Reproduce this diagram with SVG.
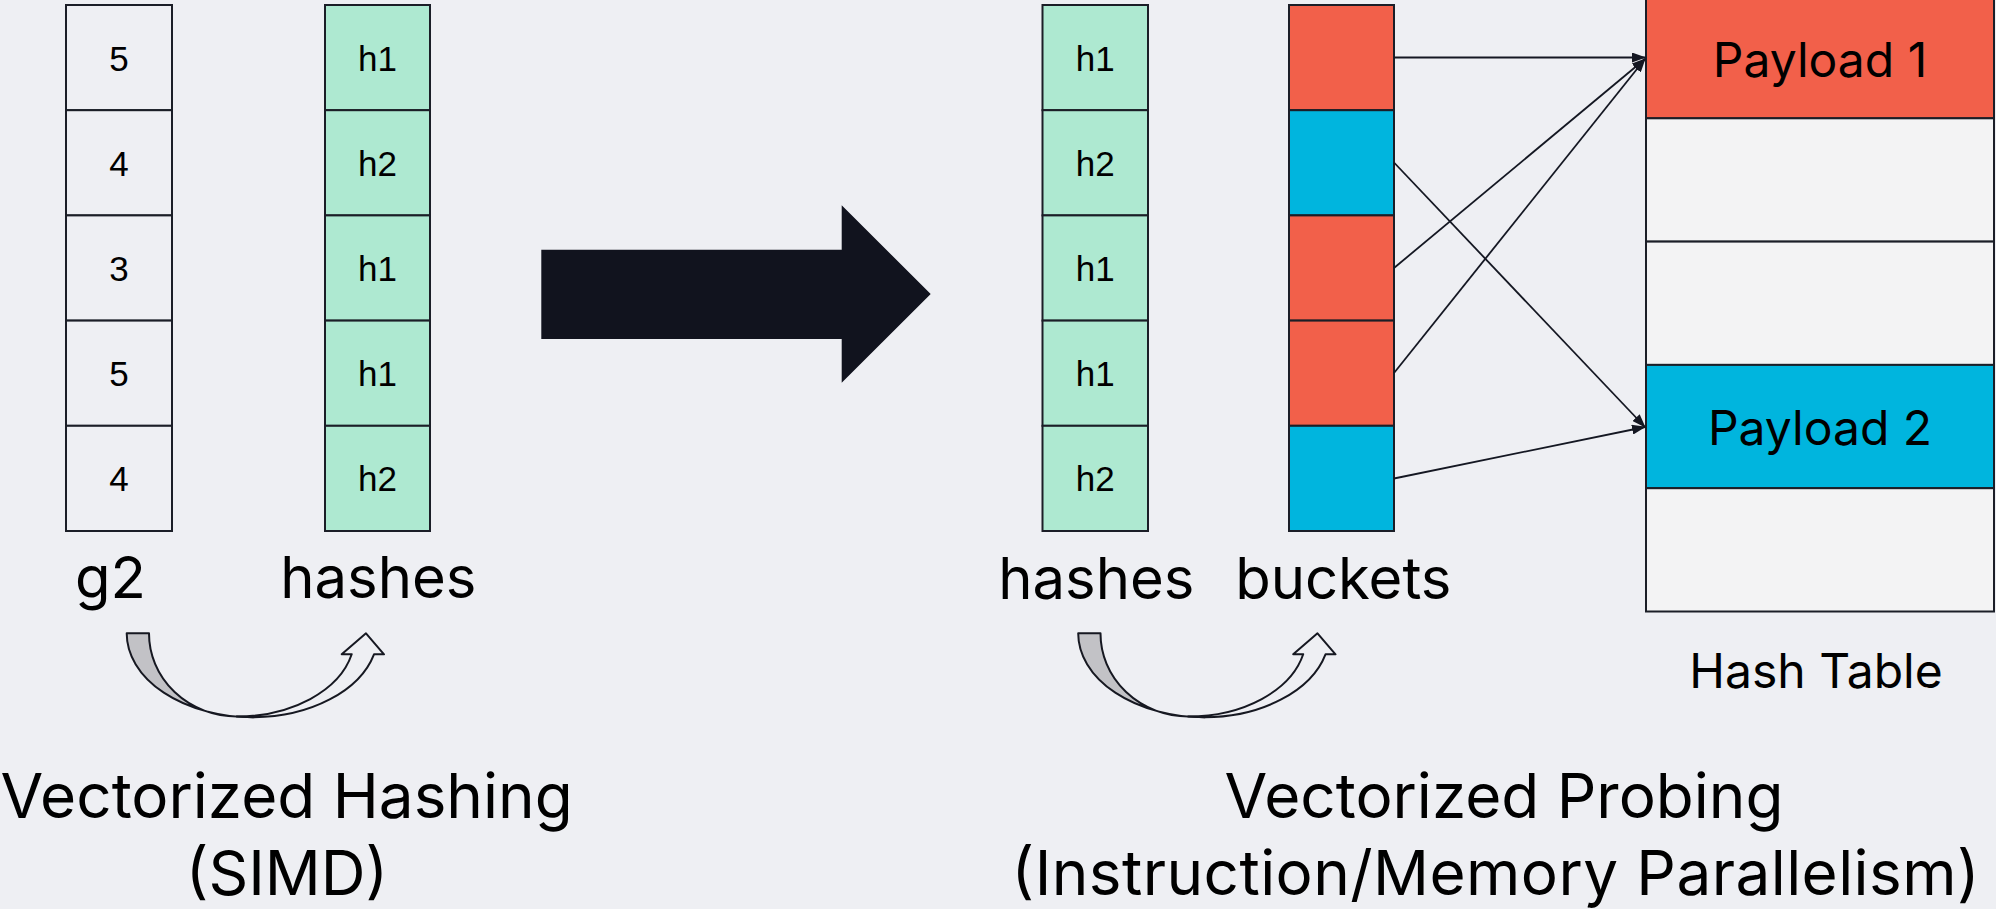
<svg xmlns="http://www.w3.org/2000/svg" width="1996" height="909" viewBox="0 0 1996 909">
  <defs>
    <style>
      .cell { stroke: #1b1e27; stroke-width: 2; }
      .plain { fill: #eeeff3; }
      .green { fill: #aee9d1; }
      .red { fill: #f2604a; }
      .blue { fill: #00b5de; }
      .slot { fill: #f3f3f4; }
      .val { font-family: "Liberation Sans", Arial, sans-serif; font-size: 35px; fill: #000; text-anchor: middle; }
      .lbl { font-family: Inter, "Noto Sans", sans-serif; font-size: 58px; fill: #000; text-anchor: middle; }
      .pay { font-family: Inter, "Noto Sans", sans-serif; font-size: 48px; fill: #000; text-anchor: middle; }
      .title { font-family: Inter, "Noto Sans", sans-serif; font-size: 62px; fill: #000; text-anchor: middle; }
      .link { stroke: #141722; stroke-width: 1.8; fill: none; marker-end: url(#tip); }
      .bend { stroke: #161821; stroke-width: 2; stroke-linejoin: round; }
    </style>
    <marker id="tip" viewBox="0 0 14 10" refX="13" refY="5" markerWidth="14" markerHeight="10" markerUnits="userSpaceOnUse" orient="auto">
      <path d="M0,0 L14,5 L0,10 Z" fill="#141722"/>
    </marker>
    <!-- curved "transform" arrow: shaded back band plus open front band with head -->
    <g id="curl">
      <path class="bend" fill="#c2c2c6" d="M126.7,633.3 L149,633.3 A88 83 0 0 0 236.7,716.5 L253.3,717.3 A126.6 84 0 0 1 126.7,633.3 Z"/>
      <path class="bend" fill="#eeeff3" d="M236.7,716.5 A118 80 0 0 0 351.7,654.3 L341.7,654.3 L366,633.3 L384,654.3 L374,654.3 A126 84 0 0 1 253.3,717.3 Z"/>
    </g>
  </defs>

  <rect x="0" y="0" width="1996" height="909" fill="#eeeff3"/>

  <!-- input column g2 -->
  <g id="g2">
    <rect class="cell plain" x="66" y="5" width="106" height="105.2"/>
    <rect class="cell plain" x="66" y="110.2" width="106" height="105.2"/>
    <rect class="cell plain" x="66" y="215.4" width="106" height="105.2"/>
    <rect class="cell plain" x="66" y="320.6" width="106" height="105.2"/>
    <rect class="cell plain" x="66" y="425.8" width="106" height="105.2"/>
    <text class="val" x="119" y="70.5">5</text>
    <text class="val" x="119" y="175.7">4</text>
    <text class="val" x="119" y="280.9">3</text>
    <text class="val" x="119" y="386.1">5</text>
    <text class="val" x="119" y="491.3">4</text>
    <text class="lbl" x="110.5" y="598">g2</text>
  </g>

  <!-- hash values from vectorized hashing -->
  <g id="hashes-left">
    <rect class="cell green" x="325" y="5" width="105" height="105.2"/>
    <rect class="cell green" x="325" y="110.2" width="105" height="105.2"/>
    <rect class="cell green" x="325" y="215.4" width="105" height="105.2"/>
    <rect class="cell green" x="325" y="320.6" width="105" height="105.2"/>
    <rect class="cell green" x="325" y="425.8" width="105" height="105.2"/>
    <text class="val" x="377.5" y="70.5">h1</text>
    <text class="val" x="377.5" y="175.7">h2</text>
    <text class="val" x="377.5" y="280.9">h1</text>
    <text class="val" x="377.5" y="386.1">h1</text>
    <text class="val" x="377.5" y="491.3">h2</text>
    <text class="lbl" x="378.3" y="598">hashes</text>
  </g>

  <g id="curl-hashing">
    <use href="#curl"/>
  </g>

  <g id="title-hashing">
    <text class="title" x="286.6" y="818">Vectorized Hashing</text>
    <text class="title" x="287" y="895">(SIMD)</text>
  </g>

  <!-- big block arrow between the two stages -->
  <g id="step-arrow">
    <polygon points="541.3,249.7 841.7,249.7 841.7,205.3 930.7,294 841.7,382.7 841.7,339 541.3,339" fill="#11131e"/>
  </g>

  <g id="hashes-right">
    <rect class="cell green" x="1042.5" y="5" width="105.5" height="105.2"/>
    <rect class="cell green" x="1042.5" y="110.2" width="105.5" height="105.2"/>
    <rect class="cell green" x="1042.5" y="215.4" width="105.5" height="105.2"/>
    <rect class="cell green" x="1042.5" y="320.6" width="105.5" height="105.2"/>
    <rect class="cell green" x="1042.5" y="425.8" width="105.5" height="105.2"/>
    <text class="val" x="1095.3" y="70.5">h1</text>
    <text class="val" x="1095.3" y="175.7">h2</text>
    <text class="val" x="1095.3" y="280.9">h1</text>
    <text class="val" x="1095.3" y="386.1">h1</text>
    <text class="val" x="1095.3" y="491.3">h2</text>
    <text class="lbl" x="1096.3" y="599">hashes</text>
  </g>

  <g id="buckets">
    <rect class="cell red" x="1289" y="5" width="105" height="105.2"/>
    <rect class="cell blue" x="1289" y="110.2" width="105" height="105.2"/>
    <rect class="cell red" x="1289" y="215.4" width="105" height="105.2"/>
    <rect class="cell red" x="1289" y="320.6" width="105" height="105.2"/>
    <rect class="cell blue" x="1289" y="425.8" width="105" height="105.2"/>
    <text class="lbl" x="1343.3" y="599">buckets</text>
  </g>

  <g id="curl-probing">
    <use href="#curl" transform="translate(951.5,0)"/>
  </g>

  <g id="hash-table">
    <rect class="cell red" x="1646" y="-5" width="348" height="123.3"/>
    <rect class="cell slot" x="1646" y="118.3" width="348" height="123.3"/>
    <rect class="cell slot" x="1646" y="241.6" width="348" height="123.3"/>
    <rect class="cell blue" x="1646" y="364.9" width="348" height="123.3"/>
    <rect class="cell slot" x="1646" y="488.2" width="348" height="123.3"/>
    <text class="pay" x="1820" y="76.6">Payload 1</text>
    <text class="pay" x="1820" y="445">Payload 2</text>
    <text class="pay" x="1816" y="688" font-size="47">Hash Table</text>
  </g>

  <g id="title-probing">
    <text class="title" x="1504" y="818">Vectorized Probing</text>
    <text class="title" x="1495.6" y="895" textLength="968" lengthAdjust="spacing">(Instruction/Memory Parallelism)</text>
  </g>

  <!-- bucket to payload links -->
  <g id="connectors">
    <line class="link" x1="1394" y1="57.5" x2="1645" y2="57.5"/>
    <line class="link" x1="1394" y1="162.5" x2="1645" y2="427"/>
    <line class="link" x1="1394" y1="268" x2="1645" y2="59"/>
    <line class="link" x1="1394" y1="373" x2="1645" y2="59"/>
    <line class="link" x1="1394" y1="478.5" x2="1645" y2="427"/>
  </g>
</svg>
